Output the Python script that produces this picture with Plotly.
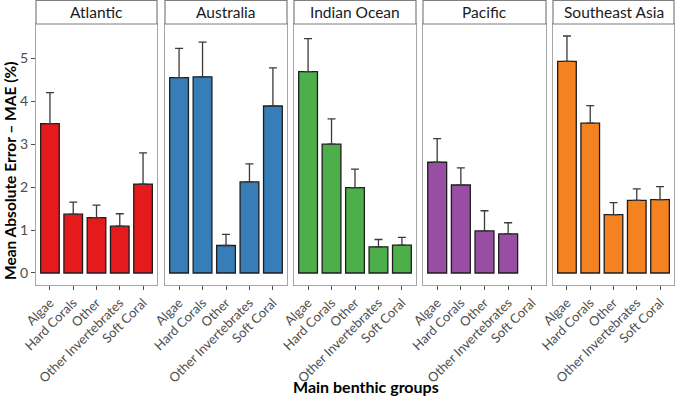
import plotly.graph_objects as go

regions = ["Atlantic", "Australia", "Indian Ocean", "Pacific", "Southeast Asia"]
groups = ["Algae", "Hard Corals", "Other", "Other Invertebrates", "Soft Coral"]
colors = ["#E41A1C", "#377EB8", "#4DAF4A", "#984EA3", "#F58220"]

mae_atlantic = [3.48, 1.37, 1.29, 1.09, 2.07]
err_atlantic = [0.72, 0.28, 0.29, 0.29, 0.73]
mae_australia = [4.55, 4.57, 0.64, 2.12, 3.89]
err_australia = [0.68, 0.81, 0.26, 0.42, 0.89]
mae_indian = [4.69, 3.00, 1.99, 0.61, 0.65]
err_indian = [0.77, 0.59, 0.43, 0.17, 0.18]
mae_pacific = [2.58, 2.05, 0.98, 0.91, None]
err_pacific = [0.55, 0.40, 0.47, 0.26, None]
mae_sea = [4.93, 3.49, 1.36, 1.69, 1.71]
err_sea = [0.59, 0.41, 0.28, 0.27, 0.30]

mae = [mae_atlantic, mae_australia, mae_indian, mae_pacific, mae_sea]
err = [err_atlantic, err_australia, err_indian, err_pacific, err_sea]

W, H = 675, 398
ml, mr, mt, mb = 36, 1, 24, 113
pw = W - ml - mr
ph = H - mt - mb
panels_px = [(36, 157), (165, 287), (294, 416), (423, 546), (553, 674)]

FONT = "Lato"
fig = go.Figure()
layout = dict(
    width=W, height=H,
    margin=dict(l=ml, r=mr, t=mt, b=mb),
    plot_bgcolor="white", paper_bgcolor="white",
    showlegend=False,
    font=dict(family=FONT, color="#4D4D4D"),
    bargap=0.2,
)
shapes = []
annotations = []
for i, reg in enumerate(regions):
    ax = "" if i == 0 else str(i + 1)
    x0, x1 = panels_px[i]
    d0 = (x0 - ml) / pw
    d1 = (x1 - ml) / pw
    xs = [g for g, v in zip(groups, mae[i]) if v is not None]
    ys = [v for v in mae[i] if v is not None]
    es = [e for e in err[i] if e is not None]
    fig.add_trace(go.Bar(
        x=xs, y=ys, xaxis="x" + ax, yaxis="y" + ax,
        marker=dict(color=colors[i], line=dict(color="#1E1E1E", width=1.3)),
        width=0.8,
        error_y=dict(type="data", array=es, arrayminus=[0] * len(es), symmetric=False,
                     color="#3a3a3a", thickness=1.3, width=4),
    ))
    layout["xaxis" + ax] = dict(
        domain=[d0, d1], anchor="y" + ax,
        type="category", categoryorder="array", categoryarray=groups,
        range=[-0.6, 4.6],
        showline=True, mirror=True, linecolor="#A6A6A6", linewidth=1.2,
        ticks="outside", ticklen=4, tickcolor="#4D4D4D", tickwidth=1,
        tickangle=-45, tickfont=dict(size=13, color="#4D4D4D", family=FONT),
        showgrid=False, zeroline=False, fixedrange=True,
    )
    ydict = dict(
        domain=[0, 1], anchor="x" + ax,
        range=[-0.28, 5.8],
        showline=True, mirror=True, linecolor="#A6A6A6", linewidth=1.2,
        showgrid=False, zeroline=False, fixedrange=True,
    )
    if i == 0:
        ydict.update(ticks="outside", ticklen=4, tickcolor="#4D4D4D", tickwidth=1,
                     tickvals=[0, 1, 2, 3, 4, 5],
                     tickfont=dict(size=14, color="#4D4D4D", family=FONT))
    else:
        ydict.update(matches="y", showticklabels=False, ticks="")
    layout["yaxis" + ax] = ydict
    # strip
    shapes.append(dict(type="rect", xref="paper", yref="paper",
                       x0=d0, x1=d1, y0=1.0, y1=1 + (mt - 0.5) / ph,
                       line=dict(color="#7F7F7F", width=1.2), fillcolor="white", layer="above"))
    annotations.append(dict(text=reg, xref="paper", yref="paper",
                            x=(d0 + d1) / 2, y=1 + (mt / 2) / ph,
                            showarrow=False, xanchor="center", yanchor="middle",
                            font=dict(size=15.5, color="#1A1A1A", family=FONT)))

annotations.append(dict(text="<b>Main benthic groups</b>", xref="paper", yref="paper",
                        x=(366 - ml) / pw, y=-(386 - mt - ph) / ph,
                        showarrow=False, xanchor="center", yanchor="middle",
                        font=dict(size=16, color="black", family=FONT)))
annotations.append(dict(text="<b>Mean Absolute Error – MAE (%)</b>", xref="paper", yref="paper",
                        x=(10 - ml) / pw, y=1 - (171 - mt) / ph, textangle=-90,
                        showarrow=False, xanchor="center", yanchor="middle",
                        font=dict(size=15.5, color="black", family=FONT)))
layout["shapes"] = shapes
layout["annotations"] = annotations
fig.update_layout(**layout)
fig.write_html("out.html", config={"displayModeBar": False},
               post_script="document.body.style.margin='0';document.body.style.overflow='hidden';")
